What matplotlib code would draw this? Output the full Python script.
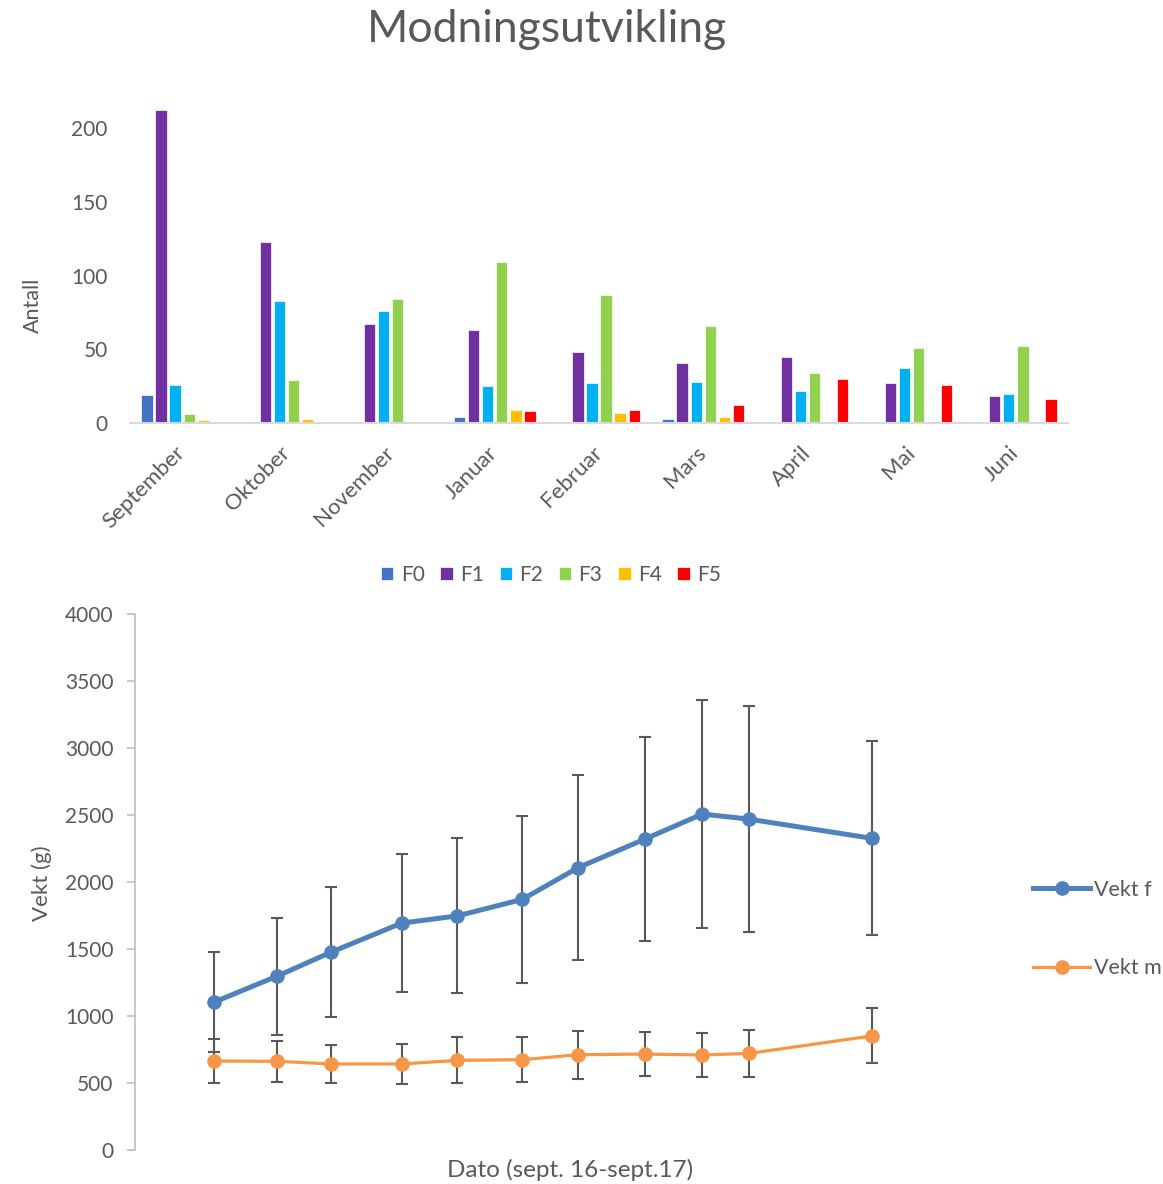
import matplotlib
matplotlib.use("Agg")
import matplotlib.pyplot as plt
import matplotlib.transforms as mtrans
from matplotlib.lines import Line2D
import numpy as np

plt.rcParams['font.family'] = ['Lato', 'DejaVu Sans']

# ---- Data: bar chart ----
months = ["September", "Oktober", "November", "Januar", "Februar", "Mars", "April", "Mai", "Juni"]
stages = ["F0", "F1", "F2", "F3", "F4", "F5"]
F0 = [19, 0, 0, 4, 0, 3, 0, 0, 0]
F1 = [212, 123, 67, 63, 48, 41, 45, 27, 18]
F2 = [26, 83, 76, 25, 27, 28, 22, 37, 20]
F3 = [6, 29, 84, 109, 87, 66, 34, 51, 52]
F4 = [2, 3, 1, 9, 7, 4, 1, 1, 0]
F5 = [1, 0, 0, 8, 9, 12, 30, 26, 16]
bar_colors = ["#4472C4", "#7030A0", "#00B0F0", "#92D050", "#FFC000", "#FF0000"]

# ---- Data: line chart ----
dates = np.array(["2016-09-15", "2016-10-20", "2016-11-19", "2016-12-28", "2017-01-28",
                  "2017-03-05", "2017-04-05", "2017-05-12", "2017-06-13", "2017-07-09",
                  "2017-09-15"], dtype="datetime64[D]")
vekt_f = [1104, 1298, 1477, 1693, 1747, 1870, 2107, 2320, 2507, 2469, 2326]
sd_f = [376, 437, 487, 516, 578, 623, 691, 760, 853, 844, 724]
vekt_m = [664, 662, 642, 642, 669, 674, 711, 716, 709, 721, 851]
sd_m = [164, 152, 145, 150, 172, 170, 178, 165, 163, 175, 205]
series_names = ["Vekt f", "Vekt m"]

txt = "#595959"
W, H = 1163, 1184
fig = plt.figure(figsize=(W / 100, H / 100), dpi=100)

def fx(px):
    return px / W

def fy(py):
    return 1 - py / H

# ---- Top bar chart ----
ymax_top = 215
top_px = 423 - ymax_top * 1.475
ax1 = fig.add_axes([fx(130), fy(423), fx(1068) - fx(130), (423 - top_px) / H])
x = np.arange(len(months))
series = [F0, F1, F2, F3, F4, F5]
pitch = 0.135
width = 0.108
for i, (vals, c, lab) in enumerate(zip(series, bar_colors, stages)):
    ax1.bar(x + (i - 2.5) * pitch, vals, width=width, color=c, label=lab,
            edgecolor="white", linewidth=0.5)
ax1.set_xlim(-0.5, len(months) - 0.5)
ax1.set_ylim(0, ymax_top)
ax1.set_yticks([0, 50, 100, 150, 200])
ax1.set_xticks(x)
ax1.set_xticklabels(months, rotation=45, ha="right", va="top", rotation_mode="anchor")
for s in ["top", "right", "left"]:
    ax1.spines[s].set_visible(False)
ax1.spines["bottom"].set_color("#D9D9D9")
ax1.spines["bottom"].set_linewidth(1.5)
ax1.tick_params(axis="y", length=0, labelsize=15, colors=txt, pad=16)
ax1.tick_params(axis="x", length=0, labelsize=16, colors=txt, pad=12)
shift = mtrans.ScaledTranslation(-0.07, -0.03, fig.dpi_scale_trans)
for lbl in ax1.get_xticklabels():
    lbl.set_transform(lbl.get_transform() + shift)

fig.text(fx(33), fy(305), "Antall", rotation=90, ha="center", va="center",
         fontsize=15.5, color=txt)
fig.text(fx(547), fy(30), "Modningsutvikling", ha="center", va="center",
         fontsize=32, color=txt)

leg1 = fig.legend(*ax1.get_legend_handles_labels(), loc="center",
                  bbox_to_anchor=(fx(551), fy(575)), ncol=6, frameon=False,
                  handlelength=0.6, handleheight=0.6, handletextpad=0.35,
                  columnspacing=0.75, fontsize=15)
for t in leg1.get_texts():
    t.set_color(txt)

# ---- Bottom line chart ----
ax2 = fig.add_axes([fx(135), fy(1150), fx(1005) - fx(135), (1150 - 614) / H])
xd = dates.astype(float)
xd_rel = xd - xd[0]
ax2.errorbar(xd_rel, vekt_f, yerr=sd_f, color="#4F81BD", lw=3.6, marker="o",
             markersize=9.5, ecolor="#595959", elinewidth=1.5, capsize=4.5, capthick=1.5,
             label=series_names[0], zorder=3)
ax2.errorbar(xd_rel, vekt_m, yerr=sd_m, color="#F79646", lw=2.3, marker="o",
             markersize=9.5, ecolor="#595959", elinewidth=1.5, capsize=4.5, capthick=1.5,
             label=series_names[1], zorder=3)
ax2.set_xlim(-44, 439)
ax2.set_ylim(0, 4000)
ax2.set_yticks(np.arange(0, 4001, 500))
ax2.set_xticks([])
for s in ["top", "right", "bottom"]:
    ax2.spines[s].set_visible(False)
ax2.spines["left"].set_color("#BFBFBF")
ax2.spines["left"].set_linewidth(1.2)
ax2.tick_params(axis="y", length=5.5, width=1.2, color="#BFBFBF", labelsize=15,
                labelcolor=txt, pad=10)
fig.text(fx(42), fy(883), "Vekt (g)", rotation=90, ha="center", va="center",
         fontsize=16, color=txt)
fig.text(fx(570), fy(1170), "Dato (sept. 16-sept.17)", ha="center", va="center",
         fontsize=17.5, color=txt)

hh = [Line2D([], [], color="#4F81BD", lw=3.6, marker="o", markersize=9.5),
      Line2D([], [], color="#F79646", lw=2.3, marker="o", markersize=9.5)]
leg2 = fig.legend(hh, series_names, loc="upper left", bbox_to_anchor=(fx(1033), fy(880)),
                  frameon=False, handlelength=2.65, handletextpad=0.2,
                  labelspacing=2.7, fontsize=15.5, borderaxespad=0, borderpad=0)
for t in leg2.get_texts():
    t.set_color(txt)

fig.savefig("out.png", dpi=100)
